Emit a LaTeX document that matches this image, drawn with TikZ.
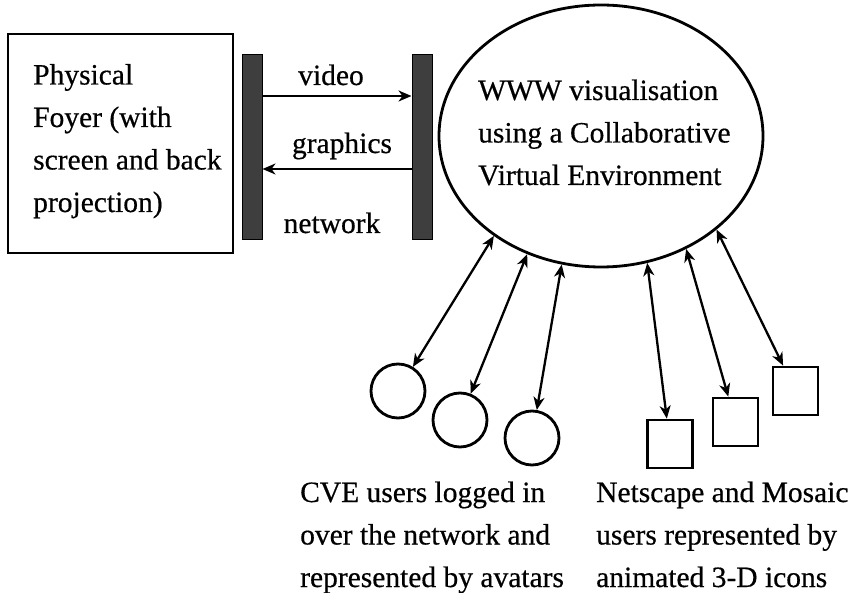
\documentclass[tikz,border=0pt]{standalone}
\usepackage{fontspec}
\setmainfont[FakeBold=0.5]{Liberation Serif}
\usetikzlibrary{arrows.meta,shapes.geometric}
\definecolor{bargray}{RGB}{62,62,62}
\tikzset{
  txt/.style={inner sep=0pt, align=left, font=\fontsize{29.5}{42.5}\selectfont},
  shapeline/.style={draw=black, line width=2.8pt},
  barstyle/.style={draw=black, line width=1pt, fill=bargray},
  link/.style={line width=2.3pt, -{Stealth[length=13pt,width=11pt,inset=4pt]}},
  dlink/.style={line width=2.3pt, {Stealth[length=13pt,width=11pt,inset=4pt]}-{Stealth[length=13pt,width=11pt,inset=4pt]}},
  avatar/.style={shapeline, circle, minimum size=54pt, inner sep=0pt},
  icon/.style={shapeline, rectangle, minimum width=45pt, minimum height=48pt, inner sep=0pt},
}
\begin{document}
\begin{tikzpicture}[x=1pt, y=-1pt]
  \useasboundingbox (0,0) rectangle (854,593);

  % physical foyer (the base anchor of a multi-line node sits on its last line)
  \draw[shapeline] (8,34) rectangle (233,253);
  \node[txt, anchor=base west] (foyer) at (33,212)
    {Physical\\Foyer (with\\screen and back\\projection)};

  % network bars
  \node[barstyle, minimum width=20pt, minimum height=185pt, inner sep=0pt] (barL) at (252,147.5) {};
  \node[barstyle, minimum width=20pt, minimum height=185pt, inner sep=0pt] (barR) at (422,147.5) {};
  \coordinate (vA) at (barL.east |- 0,96);
  \coordinate (vB) at (barR.west |- 0,96);
  \coordinate (gA) at (barR.west |- 0,169);
  \coordinate (gB) at (barL.east |- 0,169);
  \draw[link] (vA) -- (vB);
  \draw[link] (gA) -- (gB);
  \node[txt, anchor=base] (video) at (331,85) {video};
  \node[txt, anchor=base] (graphics) at (342,153) {graphics};
  \node[txt, anchor=base] (network) at (332,233) {network};

  % collaborative virtual environment
  \node[shapeline, ellipse, minimum width=324pt, minimum height=262pt, inner sep=0pt] (cve) at (601,136) {};
  \node[txt, anchor=base west] (cvetext) at (478,185)
    {WWW visualisation\\using a Collaborative\\Virtual Environment};

  % avatars
  \node[avatar] (c1) at (398,391) {};
  \node[avatar] (c2) at (460,420) {};
  \node[avatar] (c3) at (532,438) {};
  % 3-D icons
  \node[icon] (s1) at (670,444) {};
  \node[icon] (s2) at (735.5,422) {};
  \node[icon] (s3) at (795.5,391) {};

  \draw[dlink] (cve.223) -- (c1);
  \draw[dlink] (cve.238) -- (c2);
  \draw[dlink] (cve.253) -- (c3);
  \draw[dlink] (cve.290) -- (s1);
  \draw[dlink] (cve.307) -- (s2);
  \draw[dlink] (cve.321) -- (s3);

  % captions
  \node[txt, anchor=base west] (captL) at (300,587)
    {CVE users logged in\\over the network and\\represented by avatars};
  \node[txt, anchor=base west] (captR) at (596,587)
    {Netscape and Mosaic\\users represented by\\animated 3-D icons};
\end{tikzpicture}
\end{document}
